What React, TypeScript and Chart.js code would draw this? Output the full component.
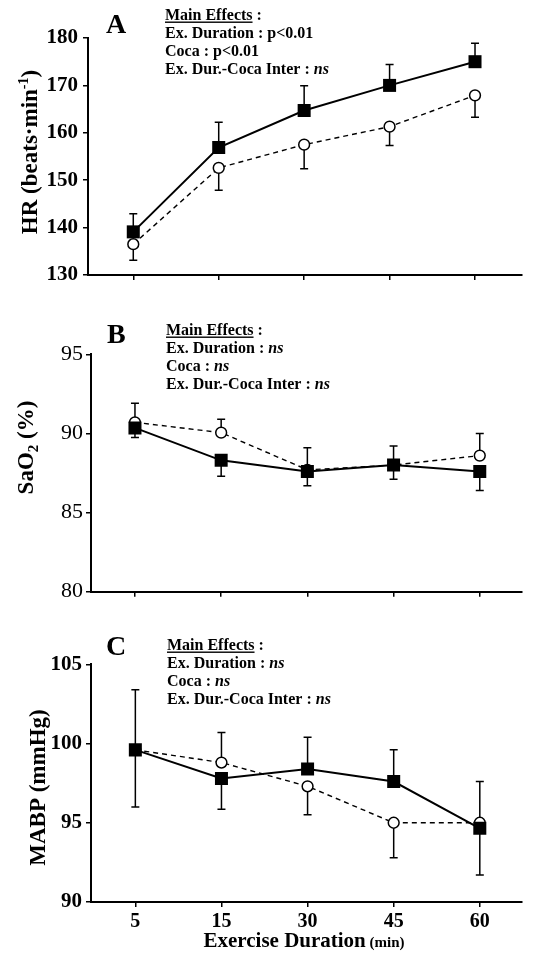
import React, { useEffect, useRef } from 'react';
import { Chart, registerables } from 'chart.js';

Chart.register(...registerables);

// ---------- data ----------
const durations = ['5', '15', '30', '45', '60'];

const hrTicks = [130, 140, 150, 160, 170, 180];
const hrFilled = [139.1, 156.9, 164.7, 170.0, 175.0];
const hrFilledSE = [3.8, 5.3, 5.2, 4.4, 3.9];
const hrFilledDir = [1, 1, 1, 1, 1];
const hrOpen = [136.5, 152.6, 157.5, 161.3, 167.9];
const hrOpenSE = [3.4, 4.7, 5.1, 4.0, 4.6];
const hrOpenDir = [-1, -1, -1, -1, -1];

const saTicks = [80, 85, 90, 95];
const saFilled = [90.35, 88.3, 87.6, 88.0, 87.6];
const saFilledSE = [0.6, 1.0, 0.9, 0.9, 1.2];
const saFilledDir = [-1, -1, -1, -1, -1];
const saOpen = [90.7, 90.05, 87.7, 88.0, 88.6];
const saOpenSE = [1.2, 0.85, 1.4, 1.2, 1.4];
const saOpenDir = [1, 1, 1, 1, 1];

const mabpTicks = [90, 95, 100, 105];
const mabpFilled = [99.6, 97.8, 98.4, 97.6, 94.65];
const mabpFilledSE = [3.8, 1.95, 2.0, 2.0, 2.95];
const mabpFilledDir = [1, -1, 1, 1, -1];
const mabpOpen = [99.6, 98.8, 97.3, 95.0, 95.0];
const mabpOpenSE = [3.6, 1.9, 1.8, 2.2, 2.6];
const mabpOpenDir = [-1, 1, -1, -1, 1];

// ---------- text ----------
type Seg = { t: string; size?: number; bold?: boolean; italic?: boolean; underline?: boolean; dy?: number };

const effectsA: Seg[][] = [
  [{ t: 'Main Effects', underline: true }, { t: ' :' }],
  [{ t: 'Ex. Duration : p<0.01' }],
  [{ t: 'Coca : p<0.01' }],
  [{ t: 'Ex. Dur.-Coca Inter : ' }, { t: 'ns', italic: true }],
];
const effectsNs: Seg[][] = [
  [{ t: 'Main Effects', underline: true }, { t: ' :' }],
  [{ t: 'Ex. Duration : ' }, { t: 'ns', italic: true }],
  [{ t: 'Coca : ' }, { t: 'ns', italic: true }],
  [{ t: 'Ex. Dur.-Coca Inter : ' }, { t: 'ns', italic: true }],
];
const hrTitle: Seg[] = [{ t: 'HR (beats·min' }, { t: '-1', size: 14, dy: -9 }, { t: ')' }];
const saTitle: Seg[] = [{ t: 'SaO' }, { t: '2', size: 15, dy: 5 }, { t: ' (%)' }];
const mabpTitle: Seg[] = [{ t: 'MABP (mmHg)' }];
const xTitle: Seg[] = [{ t: 'Exercise Duration', size: 21 }, { t: ' (min)', size: 15 }];

const FONT = "'Liberation Serif', 'Times New Roman', Times, serif";

function segFont(s: Seg, base: number) {
  return `${s.italic ? 'italic ' : ''}${s.bold === false ? '' : 'bold '}${s.size ?? base}px ${FONT}`;
}
function segsWidth(ctx: CanvasRenderingContext2D, segs: Seg[], base: number) {
  let w = 0;
  for (const s of segs) {
    ctx.font = segFont(s, base);
    w += ctx.measureText(s.t).width;
  }
  return w;
}
function drawSegs(ctx: CanvasRenderingContext2D, segs: Seg[], x: number, y: number, base: number) {
  let cx = x;
  for (const s of segs) {
    ctx.font = segFont(s, base);
    ctx.fillText(s.t, cx, y + (s.dy || 0));
    const w = ctx.measureText(s.t).width;
    if (s.underline) ctx.fillRect(cx, y + 2, w, 1.4);
    cx += w;
  }
}

type Panel = {
  letter: string;
  top: number;
  height: number;
  area: { left: number; top: number; right: number; bottom: number };
  xMin: number;
  xMax: number;
  yMin: number;
  yMax: number;
  yTicks: number[];
  tickFont: any;
  tickPad: number;
  filled: number[];
  filledSE: number[];
  filledDir: number[];
  open: number[];
  openSE: number[];
  openDir: number[];
  letterPos: [number, number];
  effX: number;
  effY: number;
  effects: Seg[][];
  yTitle: Seg[];
  yTitleX: number;
  yTitleY: number;
  showX: boolean;
};

const W = 536;

const panels: Panel[] = [
  {
    letter: 'A', top: 0, height: 300,
    area: { left: 88, top: 38, right: 522, bottom: 275 },
    xMin: -0.53, xMax: 4.55, yMin: 130, yMax: 180, yTicks: hrTicks,
    tickFont: { size: 21, weight: 'bold' }, tickPad: 5,
    filled: hrFilled, filledSE: hrFilledSE, filledDir: hrFilledDir,
    open: hrOpen, openSE: hrOpenSE, openDir: hrOpenDir,
    letterPos: [106, 33], effX: 165, effY: 19.5, effects: effectsA,
    yTitle: hrTitle, yTitleX: 37, yTitleY: 152, showX: false,
  },
  {
    letter: 'B', top: 300, height: 310,
    area: { left: 91, top: 54.3, right: 522, bottom: 291.7 },
    xMin: -0.51, xMax: 4.49, yMin: 80, yMax: 95, yTicks: saTicks,
    tickFont: { size: 22, weight: 'normal' }, tickPad: 3,
    filled: saFilled, filledSE: saFilledSE, filledDir: saFilledDir,
    open: saOpen, openSE: saOpenSE, openDir: saOpenDir,
    letterPos: [107, 43], effX: 166, effY: 34.5, effects: effectsNs,
    yTitle: saTitle, yTitleX: 33, yTitleY: 147.5, showX: false,
  },
  {
    letter: 'C', top: 610, height: 345,
    area: { left: 91, top: 54.3, right: 522, bottom: 292 },
    xMin: -0.515, xMax: 4.49, yMin: 90, yMax: 105, yTicks: mabpTicks,
    tickFont: { size: 21, weight: 'bold' }, tickPad: 4,
    filled: mabpFilled, filledSE: mabpFilledSE, filledDir: mabpFilledDir,
    open: mabpOpen, openSE: mabpOpenSE, openDir: mabpOpenDir,
    letterPos: [106, 45], effX: 167, effY: 39.5, effects: effectsNs,
    yTitle: mabpTitle, yTitleX: 45, yTitleY: 177.5, showX: true,
  },
];

const errorBarPlugin = {
  id: 'errorBars',
  beforeDatasetsDraw(chart: any) {
    const ctx: CanvasRenderingContext2D = chart.ctx;
    const yScale = chart.scales.y;
    ctx.save();
    ctx.strokeStyle = '#000';
    ctx.lineWidth = 1.5;
    chart.data.datasets.forEach((ds: any, di: number) => {
      const meta = chart.getDatasetMeta(di);
      ds.data.forEach((pt: any, j: number) => {
        const el = meta.data[j];
        if (!el) return;
        const x = el.x;
        const y0 = yScale.getPixelForValue(pt.y);
        const y1 = yScale.getPixelForValue(pt.y + ds.errDir[j] * ds.errSE[j]);
        ctx.beginPath();
        ctx.moveTo(x, y0);
        ctx.lineTo(x, y1);
        ctx.moveTo(x - 4, y1);
        ctx.lineTo(x + 4, y1);
        ctx.stroke();
      });
    });
    ctx.restore();
  },
};

function makeTextPlugin(p: Panel) {
  return {
    id: 'panelText',
    afterDraw(chart: any) {
      const ctx: CanvasRenderingContext2D = chart.ctx;
      ctx.save();
      ctx.fillStyle = '#000';
      ctx.textBaseline = 'alphabetic';
      ctx.textAlign = 'left';
      ctx.font = `bold 28px ${FONT}`;
      ctx.fillText(p.letter, p.letterPos[0], p.letterPos[1]);
      p.effects.forEach((line, i) => drawSegs(ctx, line, p.effX, p.effY + i * 18.3, 16));
      // y title
      ctx.save();
      ctx.translate(p.yTitleX, p.yTitleY);
      ctx.rotate(-Math.PI / 2);
      const tw = segsWidth(ctx, p.yTitle, 23);
      drawSegs(ctx, p.yTitle, -tw / 2, 0, 23);
      ctx.restore();
      if (p.showX) {
        const xw = segsWidth(ctx, xTitle, 21);
        drawSegs(ctx, xTitle, 304 - xw / 2, 336.7, 21);
      }
      ctx.restore();
    },
  };
}

function PanelChart({ p }: { p: Panel }) {
  const ref = useRef<HTMLCanvasElement | null>(null);
  useEffect(() => {
    if (!ref.current) return;
    const toPts = (arr: number[]) => arr.map((v, i) => ({ x: i, y: v }));
    const chart = new Chart(ref.current, {
      type: 'line',
      data: {
        datasets: [
          {
            label: 'filled',
            data: toPts(p.filled),
            borderColor: '#000',
            borderWidth: 2,
            pointStyle: 'rect',
            pointRadius: 9.2,
            pointBackgroundColor: '#000',
            pointBorderColor: '#000',
            pointBorderWidth: 0,
            fill: false,
            tension: 0,
            errSE: p.filledSE,
            errDir: p.filledDir,
          } as any,
          {
            label: 'open',
            data: toPts(p.open),
            borderColor: '#000',
            borderWidth: 1.4,
            borderDash: [5, 4],
            pointStyle: 'circle',
            pointRadius: 5.4,
            pointBackgroundColor: '#fff',
            pointBorderColor: '#000',
            pointBorderWidth: 1.5,
            fill: false,
            tension: 0,
            errSE: p.openSE,
            errDir: p.openDir,
          } as any,
        ],
      },
      options: {
        animation: false,
        responsive: false,
        maintainAspectRatio: false,
        events: [],
        layout: { padding: { top: p.area.top, right: W - p.area.right, left: 0, bottom: 0 } },
        plugins: { legend: { display: false }, tooltip: { enabled: false }, title: { display: false } },
        scales: {
          x: {
            type: 'linear',
            min: p.xMin,
            max: p.xMax,
            afterBuildTicks: (s: any) => {
              s.ticks = durations.map((_, i) => ({ value: i }));
            },
            afterFit: (s: any) => {
              s.height = p.height - p.area.bottom;
            },
            ticks: {
              autoSkip: false,
              maxRotation: 0,
              minRotation: 0,
              padding: 3,
              color: '#000',
              font: { family: FONT, size: 20, weight: 'bold' },
              callback: (v: any) => (p.showX ? durations[Math.round(Number(v))] : ''),
            },
            grid: {
              display: true,
              drawOnChartArea: false,
              drawTicks: true,
              tickLength: 5,
              color: '#000',
              lineWidth: 1.5,
            },
            border: { display: true, color: '#000', width: 2 },
          },
          y: {
            type: 'linear',
            min: p.yMin,
            max: p.yMax,
            afterBuildTicks: (s: any) => {
              s.ticks = p.yTicks.map((v) => ({ value: v }));
            },
            afterFit: (s: any) => {
              s.width = p.area.left;
            },
            ticks: {
              padding: p.tickPad,
              color: '#000',
              font: { family: FONT, ...p.tickFont },
            },
            grid: {
              display: true,
              drawOnChartArea: false,
              drawTicks: true,
              tickLength: 5,
              color: '#000',
              lineWidth: 1.5,
            },
            border: { display: true, color: '#000', width: 2 },
          },
        },
      } as any,
      plugins: [errorBarPlugin, makeTextPlugin(p)],
    });
    return () => chart.destroy();
  }, [p]);
  return (
    <canvas
      ref={ref}
      width={W}
      height={p.height}
      style={{ position: 'absolute', left: 0, top: p.top, width: W, height: p.height }}
    />
  );
}

export default function App() {
  return (
    <div style={{ position: 'absolute', left: 0, top: 0, width: W, height: 955, background: '#fff' }}>
      {panels.map((p) => (
        <PanelChart key={p.letter} p={p} />
      ))}
    </div>
  );
}
